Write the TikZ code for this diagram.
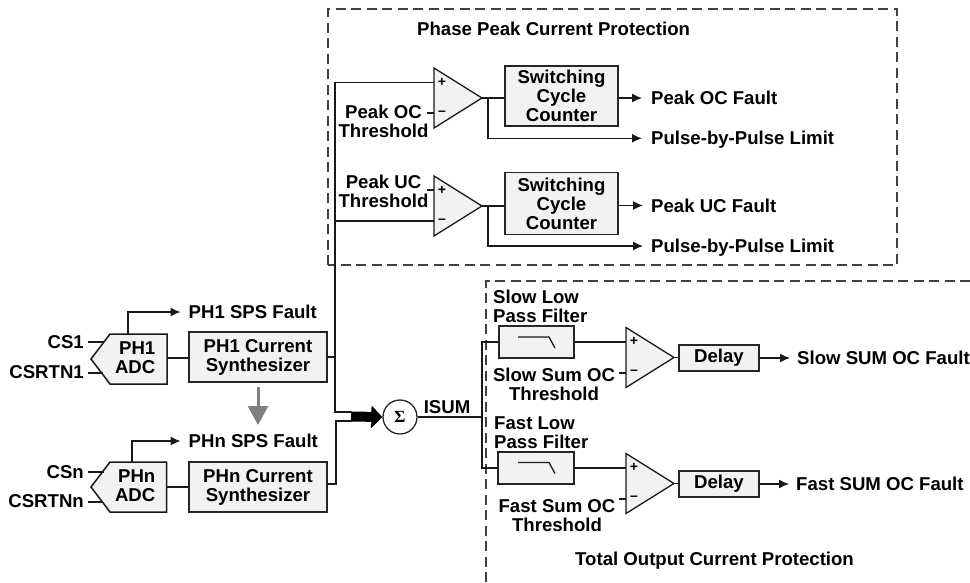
\documentclass[tikz,border=0pt]{standalone}
\usepackage{fontspec}
\setmainfont{Liberation Sans}
\newfontfamily\sumfont{Liberation Serif}
\usetikzlibrary{arrows.meta}
\definecolor{boxfill}{HTML}{F2F2F2}
\definecolor{dashc}{HTML}{404040}
\newcommand{\cmpr}[3]{% name, left x, top y
  \draw[wire,fill=boxfill] (#2,#3) -- (#2+48,#3+30) -- (#2,#3+60) -- cycle;
  \coordinate (#1p) at (#2,#3+14.5);
  \coordinate (#1m) at (#2,#3+45);
  \coordinate (#1o) at (#2+48,#3+30);
  \node[sign] (#1ps) at (#2+8,#3+14) {+};
  \node[sign] (#1ms) at (#2+8,#3+45) {–};
}
\tikzset{
  wire/.style={draw=black!90,line width=1.3pt},
  arr/.style={wire,-{Latex[length=10pt,width=9pt]}},
  block/.style={draw=black!85,line width=1.5pt,fill=boxfill,inner sep=0pt,align=center,font=\lbl},
  lab/.style={inner sep=0pt,font=\lbl,align=center},
  labl/.style={lab,anchor=west,align=left},
  labr/.style={lab,anchor=east,align=right},
  oneline/.style={text height=13.3pt,text depth=0pt},
  sign/.style={inner sep=0pt,font=\fontsize{14}{14}\selectfont\bfseries},
  zone/.style={draw=dashc,line width=2.4pt,dash pattern=on 10pt off 5.5pt},
}
\newcommand{\lbl}{\fontsize{18.6}{19}\selectfont\bfseries}
\begin{document}
\begin{tikzpicture}[x=1pt,y=-1pt]
\useasboundingbox (0,0) rectangle (970,582);
% zones
\draw[zone] (328,265) -- (328,9) -- (897,9) -- (897,265) -- cycle;
\draw[zone] (486,582) -- (486,281) -- (970,281);
% titles
\node[labl,oneline] (t1) at (417,29) {Phase Peak Current Protection};
\node[labl,oneline] (t2) at (575,559) {Total Output Current Protection};
% comparators
\cmpr{ca}{434}{68}
\cmpr{cb}{434}{176}
\cmpr{cc}{626}{327.5}
\cmpr{cd}{626}{453.5}
% counters
\node[block,minimum width=113pt,minimum height=60pt] (sa) at (561.5,96) {Switching\\Cycle\\Counter};
\node[block,minimum width=113pt,minimum height=62pt] (sb) at (561.5,203.5) {Switching\\Cycle\\Counter};
% output labels
\node[labl,oneline] (fa) at (651,98) {Peak OC Fault};
\node[labl,oneline] (pa) at (651,138.3) {Pulse-by-Pulse Limit};
\node[labl,oneline] (fb) at (651,205.5) {Peak UC Fault};
\node[labl,oneline] (pb) at (651,246) {Pulse-by-Pulse Limit};
\coordinate (ja) at (488,98);
\coordinate (jb) at (488,206);
\draw[wire] (cao) -- (sa.west |- cao);
\draw[wire] (cbo) -- (sb.west |- cbo);
\draw[arr] (sa.east |- fa) -- ([xshift=-9pt]fa.west);
\draw[arr] (sb.east |- fb) -- ([xshift=-8pt]fb.west);
\draw[arr] (ja) |- ([xshift=-9pt]pa.west);
\draw[arr] (jb) |- ([xshift=-8pt]pb.west);
% thresholds
\node[lab] (ta) at (383.5,121) {Peak OC\\Threshold};
\node[lab] (tb) at (383.5,191) {Peak UC\\Threshold};
\coordinate (tat) at (427,113);
\coordinate (tbt) at (427,190);
\draw[wire] (tat) -- (tat -| cam);
\draw[wire] (tbt) -- (tbt -| cbp);
% ADC blocks
\draw[wire,line width=1.5pt,fill=boxfill] (110,334) -- (167,334) -- (167,384) -- (110,384) -- (91,359) -- cycle;
\draw[wire,line width=1.5pt,fill=boxfill] (110,462) -- (166.5,462) -- (166.5,512) -- (110,512) -- (91,487) -- cycle;
\node[lab,align=right,anchor=east] (a1) at (155.5,358) {PH1\\ADC};
\node[lab,align=right,anchor=east] (an) at (155.5,486) {PHn\\ADC};
\coordinate (a1r) at (167,358);
\coordinate (anr) at (166.5,487);
\coordinate (a1t) at (128,334);
\coordinate (ant) at (132,462);
\node[block,minimum width=138pt,minimum height=50pt] (s1) at (258,357) {PH1 Current\\Synthesizer};
\node[block,minimum width=138pt,minimum height=50pt] (sn) at (258,487) {PHn Current\\Synthesizer};
\draw[wire] (a1r) -- (s1.west |- a1r);
\draw[wire] (anr) -- (sn.west |- anr);
\node[labl,oneline] (f1) at (188.5,312) {PH1 SPS Fault};
\node[labl,oneline] (fn) at (188.5,441) {PHn SPS Fault};
\draw[arr] (a1t) |- ([xshift=-8pt]f1.west);
\draw[arr] (ant) |- ([xshift=-8pt]fn.west);
% input labels
\node[labr,oneline] (i1) at (84,342) {CS1};
\node[labr,oneline] (i2) at (84,372) {CSRTN1};
\node[labr,oneline] (i3) at (84,472) {CSn};
\node[labr,oneline] (i4) at (84,501) {CSRTNn};
\coordinate (i1t) at (104,342);
\coordinate (i2t) at (103,373);
\coordinate (i3t) at (104,472);
\coordinate (i4t) at (103,502);
\draw[wire] (i1.east |- i1t) ++(4,0) -- (i1t);
\draw[wire] (i2.east |- i2t) ++(4,0) -- (i2t);
\draw[wire] (i3.east |- i3t) ++(4,0) -- (i3t);
\draw[wire] (i4.east |- i4t) ++(4,0) -- (i4t);
% gray arrow
\coordinate (g1) at (258,387);
\coordinate (g2) at (258,424);
\draw[draw=gray,line width=3pt,-{Triangle[length=19pt,width=20pt]},shorten >=-1pt] (g1) -- (g2);
% summer
\node[draw=black!85,line width=1.3pt,circle,fill=white,minimum size=34pt,inner sep=0pt,font=\fontsize{17}{17}\selectfont\bfseries\sumfont] (sum) at (400,417) {Σ};
\coordinate (bus1) at (352,412);
\coordinate (bus2) at (352,421);
\coordinate (bus) at (351,416.5);
\draw[black,line width=10pt,-{Triangle[length=11pt,width=22pt]}] (bus) -- (sum.west);
\coordinate (busa) at (335,82);
\coordinate (busb) at (335,221);
\draw[wire] (cap) -- (cap -| busa) -- (busa |- bus1) -- (bus1);
\draw[wire] (busb) -- (busb -| cbm);
\draw[wire] (s1.east) -- (s1.east -| busa);
\coordinate (sne) at (327,484);
\draw[wire] (sne) -- (336,484) -- (336,421) -- (bus2);
% ISUM
\node[lab,oneline] (isum) at (447,407) {ISUM};
\coordinate (jc) at (482,417);
\draw[wire] (sum.east) -- (jc);
% filters
\node[block,minimum width=75pt,minimum height=32pt] (l1) at (536.5,342) {};
\node[block,minimum width=76pt,minimum height=32pt] (l2) at (536,468) {};
\draw[wire] (518,337) -- (549,337) -- (555,348);
\draw[wire] (518,462.5) -- (549,462.5) -- (555,473.5);
\draw[wire] (l1.west) -- (l1.west -| jc) -- (l2.west -| jc) -- (l2.west);
\draw[wire] (l1.east) -- (l1.east -| ccp);
\draw[wire] (l2.east) -- (l2.east -| cdp);
\node[labl] (n1) at (493,306) {Slow Low\\Pass Filter};
\node[labl] (n2) at (494,432.5) {Fast Low\\Pass Filter};
\node[lab] (n3) at (554,384) {Slow Sum OC\\Threshold};
\node[lab] (n4) at (557,516) {Fast Sum OC\\Threshold};
\coordinate (ct) at (619,373);
\coordinate (dt) at (619,499);
\draw[wire] (ct) -- (ct -| ccm);
\draw[wire] (dt) -- (dt -| cdm);
% delays
\node[block,minimum width=80pt,minimum height=26pt] (d1) at (719,358) {Delay};
\node[block,minimum width=80pt,minimum height=26pt] (d2) at (719,484) {Delay};
\draw[wire] (cco) -- (d1.west |- cco);
\draw[wire] (cdo) -- (d2.west |- cdo);
\node[labl,oneline] (o1) at (797,358) {Slow SUM OC Fault};
\node[labl,oneline] (o2) at (796,484) {Fast SUM OC Fault};
\draw[arr] (d1.east) -- ([xshift=-7pt]o1.west);
\draw[arr] (d2.east) -- ([xshift=-7pt]o2.west);
\end{tikzpicture}
\end{document}
